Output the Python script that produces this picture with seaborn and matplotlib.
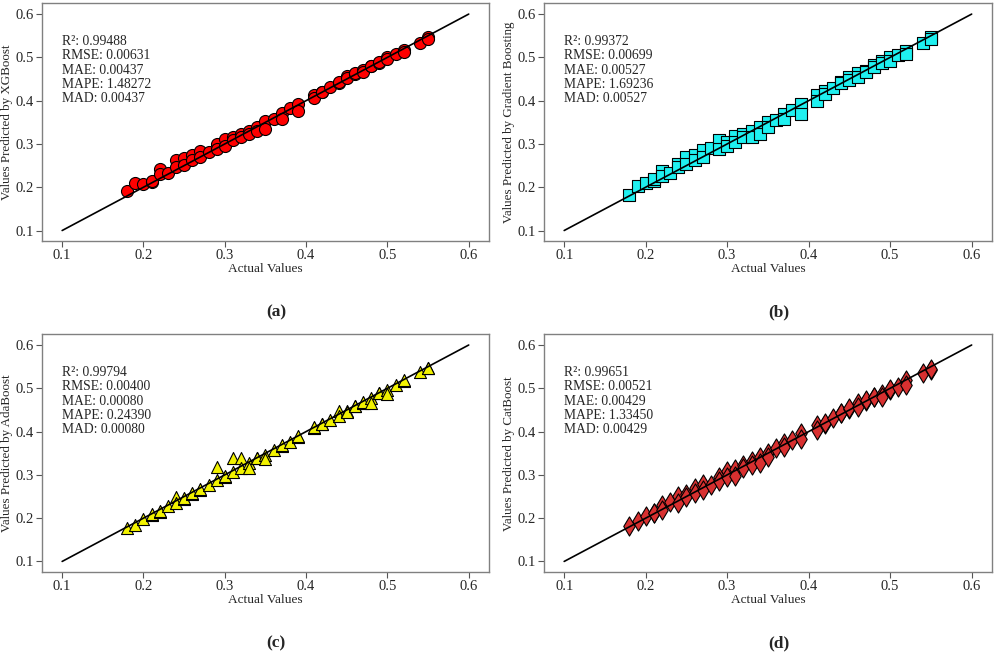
import numpy as np
import pandas as pd
import matplotlib
matplotlib.use("Agg")
import matplotlib.pyplot as plt
import seaborn as sns

# actual values of the test set (shared by all four models)
actual = [0.18, 0.19, 0.20, 0.21, 0.21, 0.22, 0.22, 0.23, 0.24, 0.24,
          0.25, 0.25, 0.26, 0.26, 0.27, 0.27, 0.28, 0.29, 0.29, 0.30,
          0.30, 0.31, 0.31, 0.32, 0.32, 0.33, 0.33, 0.34, 0.34, 0.35,
          0.35, 0.36, 0.37, 0.37, 0.38, 0.39, 0.39, 0.41, 0.41, 0.42,
          0.42, 0.43, 0.44, 0.44, 0.45, 0.45, 0.46, 0.46, 0.47, 0.47,
          0.48, 0.48, 0.49, 0.49, 0.50, 0.50, 0.51, 0.52, 0.52, 0.54,
          0.55, 0.55]

pred_xgb = [0.192, 0.209, 0.207, 0.213, 0.215, 0.242, 0.230, 0.233, 0.263, 0.246,
            0.268, 0.252, 0.275, 0.263, 0.283, 0.269, 0.282, 0.300, 0.288, 0.312,
            0.295, 0.315, 0.308, 0.323, 0.315, 0.331, 0.323, 0.340, 0.329, 0.354,
            0.335, 0.358, 0.371, 0.358, 0.382, 0.392, 0.375, 0.413, 0.405, 0.421,
            0.419, 0.431, 0.440, 0.442, 0.458, 0.452, 0.462, 0.464, 0.471, 0.467,
            0.481, 0.479, 0.488, 0.489, 0.500, 0.496, 0.508, 0.517, 0.512, 0.533,
            0.546, 0.542]

pred_gb = [0.182, 0.202, 0.209, 0.215, 0.219, 0.237, 0.227, 0.233, 0.254, 0.246,
           0.269, 0.254, 0.275, 0.263, 0.285, 0.269, 0.290, 0.308, 0.288, 0.304,
           0.295, 0.319, 0.304, 0.323, 0.315, 0.331, 0.317, 0.338, 0.323, 0.350,
           0.338, 0.355, 0.369, 0.358, 0.378, 0.392, 0.369, 0.412, 0.400, 0.423,
           0.415, 0.429, 0.442, 0.440, 0.455, 0.448, 0.463, 0.455, 0.469, 0.467,
           0.482, 0.477, 0.492, 0.486, 0.500, 0.492, 0.505, 0.515, 0.508, 0.533,
           0.546, 0.542]

pred_ada = [0.177, 0.185, 0.198, 0.208, 0.209, 0.215, 0.217, 0.227, 0.250, 0.236,
            0.244, 0.246, 0.255, 0.257, 0.265, 0.267, 0.277, 0.319, 0.287, 0.296,
            0.298, 0.338, 0.306, 0.338, 0.317, 0.327, 0.317, 0.338, 0.340, 0.346,
            0.336, 0.358, 0.367, 0.369, 0.377, 0.387, 0.389, 0.408, 0.410, 0.417,
            0.418, 0.427, 0.448, 0.436, 0.448, 0.446, 0.458, 0.459, 0.467, 0.469,
            0.477, 0.467, 0.488, 0.489, 0.496, 0.487, 0.508, 0.518, 0.519, 0.537,
            0.546, 0.547]

pred_cat = [0.182, 0.194, 0.205, 0.212, 0.213, 0.231, 0.219, 0.238, 0.252, 0.236,
            0.255, 0.250, 0.269, 0.258, 0.279, 0.264, 0.277, 0.296, 0.285, 0.310,
            0.296, 0.313, 0.298, 0.323, 0.315, 0.333, 0.323, 0.342, 0.327, 0.350,
            0.341, 0.362, 0.373, 0.365, 0.381, 0.396, 0.382, 0.415, 0.404, 0.418,
            0.420, 0.431, 0.442, 0.444, 0.452, 0.454, 0.467, 0.456, 0.471, 0.473,
            0.481, 0.479, 0.486, 0.481, 0.496, 0.498, 0.502, 0.519, 0.508, 0.535,
            0.542, 0.544]

model_names = ["XGBoost", "Gradient Boosting", "AdaBoost", "CatBoost"]
panel_tags = ["(a)", "(b)", "(c)", "(d)"]
metrics = [
    ("0.99488", "0.00631", "0.00437", "1.48272", "0.00437"),
    ("0.99372", "0.00699", "0.00527", "1.69236", "0.00527"),
    ("0.99794", "0.00400", "0.00080", "0.24390", "0.00080"),
    ("0.99651", "0.00521", "0.00429", "1.33450", "0.00429"),
]
ticks = [0.1, 0.2, 0.3, 0.4, 0.5, 0.6]

sns.set_style("ticks")
plt.rcParams['font.family'] = ['Liberation Serif', 'DejaVu Serif']

preds = [pred_xgb, pred_gb, pred_ada, pred_cat]
markers = ["o", "s", "^", "d"]
colors = ["#ff0000", "#1ff0f0", "#f2f200", "#d83030"]
sizes = [75, 75, 75, 95]

# axes boxes in figure fractions [left, bottom, width, height]
boxes = [[0.042, 0.631, 0.449, 0.364],
         [0.546, 0.631, 0.450, 0.364],
         [0.042, 0.125, 0.449, 0.364],
         [0.546, 0.125, 0.450, 0.364]]
tag_pos = [(0.277, 0.522), (0.782, 0.522), (0.277, 0.016), (0.782, 0.016)]

fig = plt.figure(figsize=(9.96, 6.54), dpi=100)

for i in range(4):
    ax = fig.add_axes(boxes[i])
    df = pd.DataFrame({"Actual": actual, "Pred": preds[i]})
    sns.scatterplot(data=df, x="Actual", y="Pred", ax=ax, marker=markers[i],
                    color=colors[i], edgecolor="black", linewidth=0.8,
                    s=sizes[i], zorder=2)
    ax.plot([0.1, 0.6], [0.1, 0.6], color="black", lw=1.2, zorder=3)
    ax.set_xlim(0.075, 0.625)
    ax.set_ylim(0.075, 0.625)
    ax.set_xticks(ticks)
    ax.set_yticks(ticks)
    ax.set_xticklabels([f"{t:.1f}" for t in ticks], fontsize=10.5)
    ax.set_yticklabels([f"{t:.1f}" for t in ticks], fontsize=10.5)
    ax.tick_params(length=4, width=0.8, color="#555555", pad=1.5)
    for sp in ax.spines.values():
        sp.set_color("#808080")
        sp.set_linewidth(1.0)
    ax.set_xlabel("Actual Values", fontsize=9.6, labelpad=0.5)
    ax.set_ylabel(f"Values Predicted by {model_names[i]}", fontsize=9.4)
    ax.yaxis.set_label_coords(-0.064, 0.5)
    m = metrics[i]
    txt = (f"R\u00b2: {m[0]}\nRMSE: {m[1]}\nMAE: {m[2]}\n"
           f"MAPE: {m[3]}\nMAD: {m[4]}")
    ax.text(0.1, 0.551, txt, fontsize=9.8, va="top", ha="left",
            linespacing=1.12)
    fig.text(tag_pos[i][0], tag_pos[i][1], panel_tags[i], fontsize=12.5,
             fontweight="bold", ha="center", va="center")

fig.savefig("out.png", dpi=100)
